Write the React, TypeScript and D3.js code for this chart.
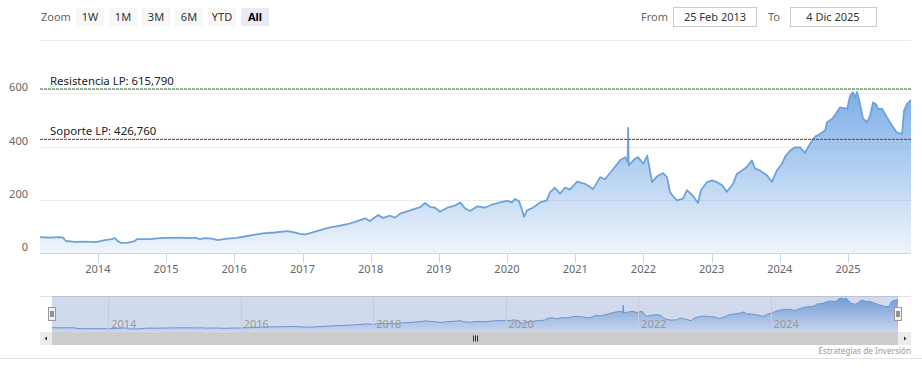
import React from "react";
import * as d3 from "d3";

const dates: string[] = [
  "2013-02-25","2013-04-19","2013-06-12","2013-06-28","2013-07-14","2013-08-31","2013-10-24","2013-12-16",
  "2014-01-02","2014-02-08","2014-03-17","2014-04-02","2014-04-18","2014-05-04","2014-06-11","2014-07-18","2014-07-29","2014-10-07","2014-11-29",
  "2015-01-06","2015-03-16","2015-05-09","2015-06-04","2015-07-02","2015-07-28","2015-09-04","2015-10-06","2015-11-12",
  "2016-01-11","2016-02-27","2016-04-21","2016-06-14","2016-08-07","2016-10-11","2016-11-11","2016-12-19",
  "2017-01-15","2017-02-11","2017-04-05","2017-05-29","2017-07-21","2017-08-27","2017-10-10","2017-12-02","2017-12-28",
  "2018-02-10","2018-03-08","2018-04-15","2018-05-12","2018-06-08","2018-07-31","2018-09-23","2018-10-19","2018-11-16","2018-12-12",
  "2019-01-08","2019-02-15","2019-03-29","2019-04-25","2019-05-22","2019-06-17","2019-07-25","2019-09-06","2019-10-13","2019-11-25",
  "2020-01-01","2020-01-28","2020-02-13","2020-03-06","2020-04-02","2020-04-17","2020-05-19","2020-06-26","2020-08-02","2020-08-18","2020-09-14","2020-10-11","2020-11-07","2020-12-03",
  "2021-01-11","2021-02-22","2021-04-06","2021-05-14","2021-06-09","2021-07-17","2021-08-29","2021-09-25","2021-10-08","2021-10-11","2021-10-14","2021-11-17","2021-12-03","2021-12-31",
  "2022-01-21","2022-02-16","2022-03-15","2022-04-16","2022-05-07","2022-05-23","2022-06-09","2022-06-30","2022-08-01","2022-08-22","2022-09-23","2022-10-20","2022-11-05","2022-12-07",
  "2023-01-04","2023-01-30","2023-02-26","2023-03-24","2023-04-26","2023-05-17","2023-06-13","2023-07-09","2023-08-05","2023-08-21","2023-09-17","2023-10-24","2023-11-20","2023-12-17",
  "2024-01-13","2024-01-29","2024-02-25","2024-03-23","2024-04-18","2024-05-15","2024-06-11","2024-07-08","2024-08-04","2024-08-31","2024-09-10","2024-10-07","2024-10-23","2024-11-19","2024-12-27",
  "2025-01-12","2025-01-28","2025-02-08","2025-02-18","2025-03-06","2025-03-22","2025-04-13","2025-04-29","2025-05-15","2025-05-31","2025-06-11","2025-07-02","2025-07-29","2025-08-25","2025-09-21","2025-10-17","2025-10-28","2025-11-13","2025-12-04",
];

const prices: number[] = [
  60, 58, 60, 58, 45, 42, 43, 41,
  43, 48, 52, 56, 45, 38, 39, 45, 52, 52, 56,
  57, 58, 56, 58, 52, 56, 54, 48, 53,
  57, 62, 69, 75, 77, 82, 78, 72,
  70, 75, 86, 96, 103, 108, 117, 130, 120,
  143, 132, 140, 133, 148, 160, 172, 188, 173, 170,
  155, 170, 178, 190, 167, 158, 175, 170, 182, 190,
  196, 190, 203, 195, 136, 160, 170, 190, 198, 228, 245, 223, 246, 238,
  268, 260, 240, 285, 277, 310, 348, 360, 342, 470, 330, 354, 360, 335,
  366, 266, 288, 300, 285, 229, 213, 198, 204, 236, 215, 188, 236, 266,
  273, 266, 255, 230, 260, 298, 310, 323, 348, 317, 310, 292, 267, 310,
  335, 360, 385, 397, 397, 376, 410, 437, 447, 460, 491, 503, 518, 547, 541,
  591, 603, 584, 605, 560, 505, 491, 516, 566, 558, 540, 542, 508, 478, 452, 447, 535, 560, 575,
];

const yTicks: number[] = [0, 200, 400, 600, 800];
const yMax = 800;
const resistance = 615.79;
const support = 426.76;
const resistanceLabel = "Resistencia LP: 615,790";
const supportLabel = "Soporte LP: 426,760";
const zoomButtons: string[] = ["1W", "1M", "3M", "6M", "YTD", "All"];
const selectedButton = "All";
const fromText = "25 Feb 2013";
const toText = "4 Dic 2025";
const creditText = "Estrategias de Inversión";

const W = 922;
const H = 378;
const FONT = "'Noto Sans', 'Open Sans', sans-serif";

export default function App() {
  const parse = d3.utcParse("%Y-%m-%d");
  const n = Math.min(dates.length, prices.length);
  const data = d3.range(n).map((i) => ({ d: parse(dates[i]) as Date, v: prices[i] }));
  const x0 = data[0].d;
  const x1 = data[n - 1].d;

  const plotL = 40, plotR = 911, plotT = 40, plotB = 253;
  const x = d3.scaleUtc().domain([x0, x1]).range([plotL, plotR]);
  const y = d3.scaleLinear().domain([0, yMax]).range([plotB, plotT]);

  const area = d3.area<any>().x((p) => x(p.d)).y0(y(0)).y1((p) => y(p.v));
  const line = d3.line<any>().x((p) => x(p.d)).y((p) => y(p.v));

  const xTicks = d3.utcYear.range(d3.utcYear.ceil(x0), x1);
  const fmt = d3.utcFormat("%Y");

  // navigator
  const navL = 52, navR = 898, navT = 296, navB = 332;
  const nx = d3.scaleUtc().domain([x0, x1]).range([navL, navR]);
  const ny = d3.scaleLinear().domain([0, d3.max(prices) as number]).range([331, 298]);
  const navArea = d3.area<any>().x((p) => nx(p.d)).y0(ny(0)).y1((p) => ny(p.v));
  const navLine = d3.line<any>().x((p) => nx(p.d)).y((p) => ny(p.v));
  const navTicks = d3.utcYear.every(2)!.range(d3.utcYear.ceil(x0), x1);

  const sbT = 332, sbB = 345;

  return (
    <div style={{ position: "absolute", left: 0, top: 0 }}>
      <svg width={W} height={H} style={{ display: "block", fontFamily: FONT }}>
        <defs>
          <linearGradient id="mainFill" gradientUnits="userSpaceOnUse" x1="0" y1={y(600)} x2="0" y2={plotB}>
            <stop offset="0" stopColor="#78abe6" stopOpacity="0.95" />
            <stop offset="1" stopColor="#78abe6" stopOpacity="0.12" />
          </linearGradient>
          <linearGradient id="navFill" gradientUnits="userSpaceOnUse" x1="0" y1={298} x2="0" y2={331}>
            <stop offset="0" stopColor="#6a9fe0" stopOpacity="0.9" />
            <stop offset="1" stopColor="#6a9fe0" stopOpacity="0.1" />
          </linearGradient>
        </defs>
        <rect x={0} y={0} width={W} height={H} fill="#ffffff" />

        {/* range selector */}
        <text x={41} y={20.5} fontSize={11} fill="#666666">Zoom</text>
        {zoomButtons.map((b, i) => {
          const bx = 76 + i * 33;
          const sel = b === selectedButton;
          return (
            <g key={b}>
              <rect x={bx} y={8} width={28} height={18} fill={sel ? "#e6ebf5" : "#f7f7f7"} />
              <text x={bx + 14} y={20.5} fontSize={11} textAnchor="middle" fill={sel ? "#000000" : "#333333"} fontWeight={sel ? "bold" : "normal"}>{b}</text>
            </g>
          );
        })}
        <text x={641} y={20.5} fontSize={11} fill="#666666">From</text>
        <rect x={673.5} y={7.5} width={83} height={19} fill="#ffffff" stroke="#cccccc" />
        <text x={715} y={20.5} fontSize={11} textAnchor="middle" fill="#333333">{fromText}</text>
        <text x={768} y={20.5} fontSize={11} fill="#666666">To</text>
        <rect x={790.5} y={7.5} width={86} height={19} fill="#ffffff" stroke="#cccccc" />
        <text x={833} y={20.5} fontSize={11} textAnchor="middle" fill="#333333">{toText}</text>

        {/* grid */}
        {yTicks.map((t) => (
          <g key={t}>
            {t !== 0 && <line x1={plotL} x2={plotR} y1={Math.round(y(t)) + 0.5} y2={Math.round(y(t)) + 0.5} stroke="#ebebeb" />}
            {t !== yMax && (
              <text x={28} y={y(t) - 2} fontSize={11} textAnchor="end" fill="#666666">{t}</text>
            )}
          </g>
        ))}

        {/* series */}
        <path d={area(data) as string} fill="url(#mainFill)" />
        <path d={line(data) as string} fill="none" stroke="#6fa2da" strokeWidth={1.8} strokeLinejoin="round" />

        {/* plot lines */}
        <line x1={plotL} x2={plotR} y1={y(resistance)} y2={y(resistance)} stroke="#1d6b1d" strokeWidth={1} strokeDasharray="3,1" />
        <text x={plotL + 10} y={y(resistance) - 4.5} fontSize={11.4} fill="#222222">{resistanceLabel}</text>
        <line x1={plotL} x2={plotR} y1={y(support)} y2={y(support)} stroke="#b0202c" strokeWidth={1} strokeDasharray="3,1" />
        <text x={plotL + 10} y={y(support) - 4.5} fontSize={11.4} fill="#222222">{supportLabel}</text>

        {/* x axis */}
        <line x1={plotL} x2={plotR} y1={plotB + 0.5} y2={plotB + 0.5} stroke="#ccd6eb" />
        {xTicks.map((t) => (
          <g key={+t}>
            <line x1={Math.round(x(t)) + 0.5} x2={Math.round(x(t)) + 0.5} y1={plotB} y2={plotB + 10} stroke="#ccd6eb" />
            <text x={x(t)} y={272.5} fontSize={11} textAnchor="middle" fill="#666666">{fmt(t)}</text>
          </g>
        ))}

        {/* navigator */}
        <line x1={plotL} x2={plotR} y1={navT + 0.5} y2={navT + 0.5} stroke="#e0e0e0" />
        <path d={navArea(data) as string} fill="url(#navFill)" />
        <path d={navLine(data) as string} fill="none" stroke="#6a9bd6" strokeWidth={1} />
        <rect x={navL} y={navT} width={navR - navL} height={navB - navT} fill="rgba(102,133,194,0.3)" />
        {navTicks.map((t) => (
          <g key={+t}>
            <line x1={Math.round(nx(t)) + 0.5} x2={Math.round(nx(t)) + 0.5} y1={navT} y2={navB} stroke="#c4cbdc" />
            <text x={nx(t) + 3} y={328} fontSize={11} fill="#999999">{fmt(t)}</text>
          </g>
        ))}
        {[navL, navR].map((hx) => (
          <g key={hx}>
            <rect x={hx - 3.5} y={307.5} width={7} height={13} fill="#f2f2f2" stroke="#999999" />
            <line x1={hx - 1} x2={hx - 1} y1={311} y2={317} stroke="#333333" />
            <line x1={hx + 1} x2={hx + 1} y1={311} y2={317} stroke="#333333" />
          </g>
        ))}

        {/* scrollbar */}
        <rect x={plotL} y={sbT} width={plotR - plotL} height={sbB - sbT} fill="#f2f2f2" />
        <rect x={navL} y={sbT} width={navR - navL} height={sbB - sbT} fill="#cccccc" />
        <rect x={plotL} y={sbT} width={navL - plotL} height={sbB - sbT} fill="#ebebeb" />
        <rect x={navR} y={sbT} width={plotR - navR} height={sbB - sbT} fill="#ebebeb" />
        <path d={`M${plotL + 7},${sbT + 4.5} L${plotL + 4.5},${sbT + 6.5} L${plotL + 7},${sbT + 8.5} Z`} fill="#333333" />
        <path d={`M${plotR - 7},${sbT + 4.5} L${plotR - 4.5},${sbT + 6.5} L${plotR - 7},${sbT + 8.5} Z`} fill="#333333" />
        {[-2, 0, 2].map((o) => {
          const cx = Math.round((navL + navR) / 2) + o + 0.5;
          return <line key={o} x1={cx} x2={cx} y1={sbT + 3.5} y2={sbT + 9.5} stroke="#333333" />;
        })}

        {/* footer */}
        <text x={911} y={353.5} fontSize={8.2} textAnchor="end" fill="#999999">{creditText}</text>
        <line x1={0} x2={W} y1={358.5} y2={358.5} stroke="#e3e3e3" />
      </svg>
    </div>
  );
}
